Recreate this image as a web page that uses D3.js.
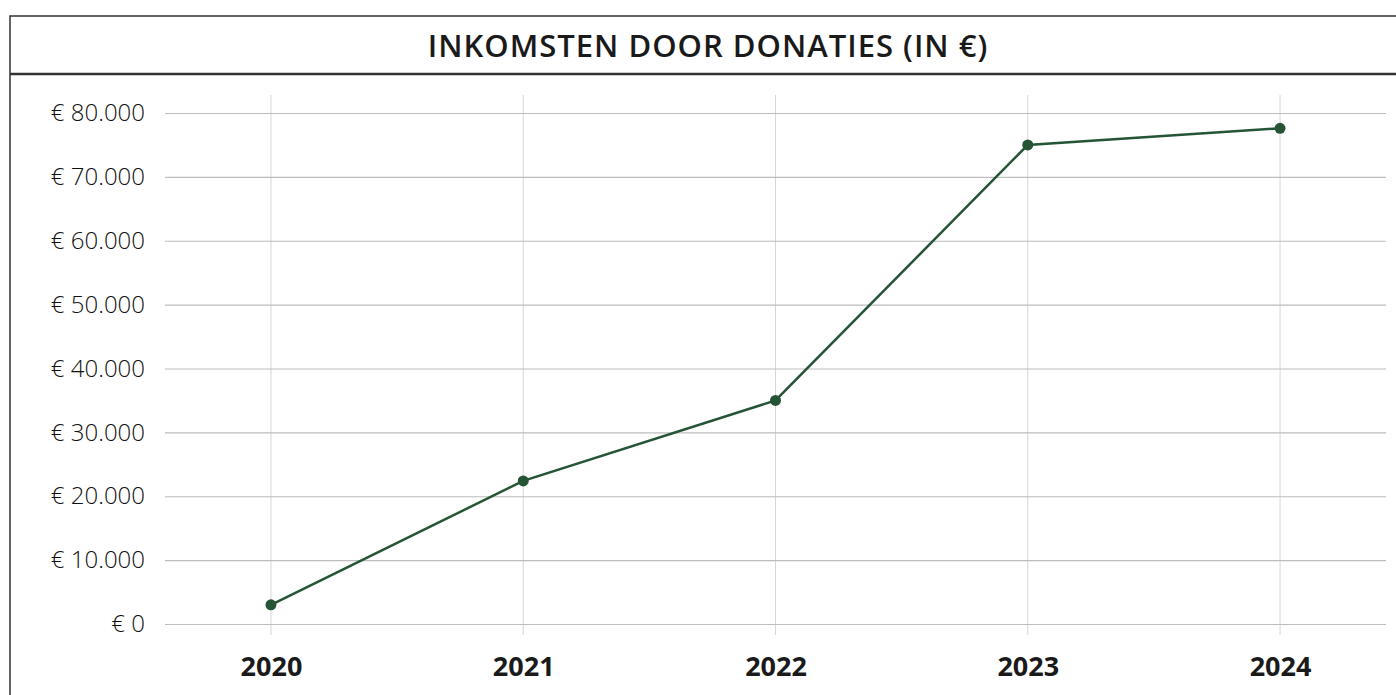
<!DOCTYPE html>
<html>
<head>
<meta charset="utf-8">
<script src="https://cdn.jsdelivr.net/npm/d3@7"></script>
<style>
	body { margin: 0; background: #fff; }
	svg { display: block; font-family: "Open Sans", "Noto Sans", sans-serif; }
</style>
</head>
<body>
<div id="chart"></div>
<script>
let years = ["2020", "2021", "2022", "2023", "2024"];
let donations = [3000, 22400, 35000, 75000, 77600];
let yTicks = [0, 10000, 20000, 30000, 40000, 50000, 60000, 70000, 80000];
let chartTitle = "INKOMSTEN DOOR DONATIES (IN €)";

let width = 1396, height = 695;

let svg = d3.select("#chart")
	.append("svg")
	.attr("width", width)
	.attr("height", height);

// frame + title bar
svg.append("path")
	.attr("d", "M10,695 V16 H1396")
	.attr("fill", "none")
	.attr("stroke", "#333")
	.attr("stroke-width", 1.5);
svg.append("line")
	.attr("x1", 10).attr("x2", 1396)
	.attr("y1", 74).attr("y2", 74)
	.attr("stroke", "#333")
	.attr("stroke-width", 2.5);
svg.append("text")
	.attr("x", 708)
	.attr("y", 57)
	.attr("text-anchor", "middle")
	.attr("font-size", 31)
	.attr("font-weight", 600)
	.attr("letter-spacing", 1)
	.attr("fill", "#1a1a1a")
	.text(chartTitle);

// scales
let x = d3.scalePoint().domain(years).range([165, 1386]).padding(0.42);
let y = d3.scaleLinear().domain([0, 80000]).range([624, 113]);

let fmt = (v) => "€ " + d3.format(",")(v).replace(/,/g, ".");

// vertical gridlines
svg.append("g")
	.selectAll("line")
	.data(years)
	.enter()
	.append("line")
	.attr("x1", (d) => x(d)).attr("x2", (d) => x(d))
	.attr("y1", 95).attr("y2", 635)
	.attr("stroke", "#d6d6d6")
	.attr("stroke-width", 1);

// y axis with gridlines
let yAxis = svg.append("g")
	.attr("transform", "translate(165,0)")
	.call(d3.axisLeft(y).tickValues(yTicks).tickFormat(fmt).tickSize(0).tickPadding(20));
yAxis.select(".domain").remove();
yAxis.selectAll(".tick line")
	.attr("x2", 1386 - 165)
	.attr("stroke", "#bdbdbd")
	.attr("stroke-width", 1.2);
yAxis.selectAll(".tick text")
	.attr("font-size", 24)
	.attr("font-weight", 300)
	.attr("font-family", "'Open Sans', 'Noto Sans', sans-serif")
	.attr("fill", "#111");

// x axis
let xAxis = svg.append("g")
	.attr("transform", "translate(0,645)")
	.call(d3.axisBottom(x).tickSize(0).tickPadding(12));
xAxis.select(".domain").remove();
xAxis.selectAll(".tick text")
	.attr("font-size", 27)
	.attr("font-weight", 700)
	.attr("font-family", "'Open Sans', 'Noto Sans', sans-serif")
	.attr("fill", "#1a1a1a");

// line + dots
let line = d3.line()
	.x((d, i) => x(years[i]))
	.y((d) => y(d));

svg.append("path")
	.datum(donations)
	.attr("d", line)
	.attr("fill", "none")
	.attr("stroke", "#255436")
	.attr("stroke-width", 2.5);

svg.append("g")
	.selectAll("circle")
	.data(donations)
	.enter()
	.append("circle")
	.attr("cx", (d, i) => x(years[i]))
	.attr("cy", (d) => y(d))
	.attr("r", 5.5)
	.attr("fill", "#255436");
</script>
</body>
</html>
